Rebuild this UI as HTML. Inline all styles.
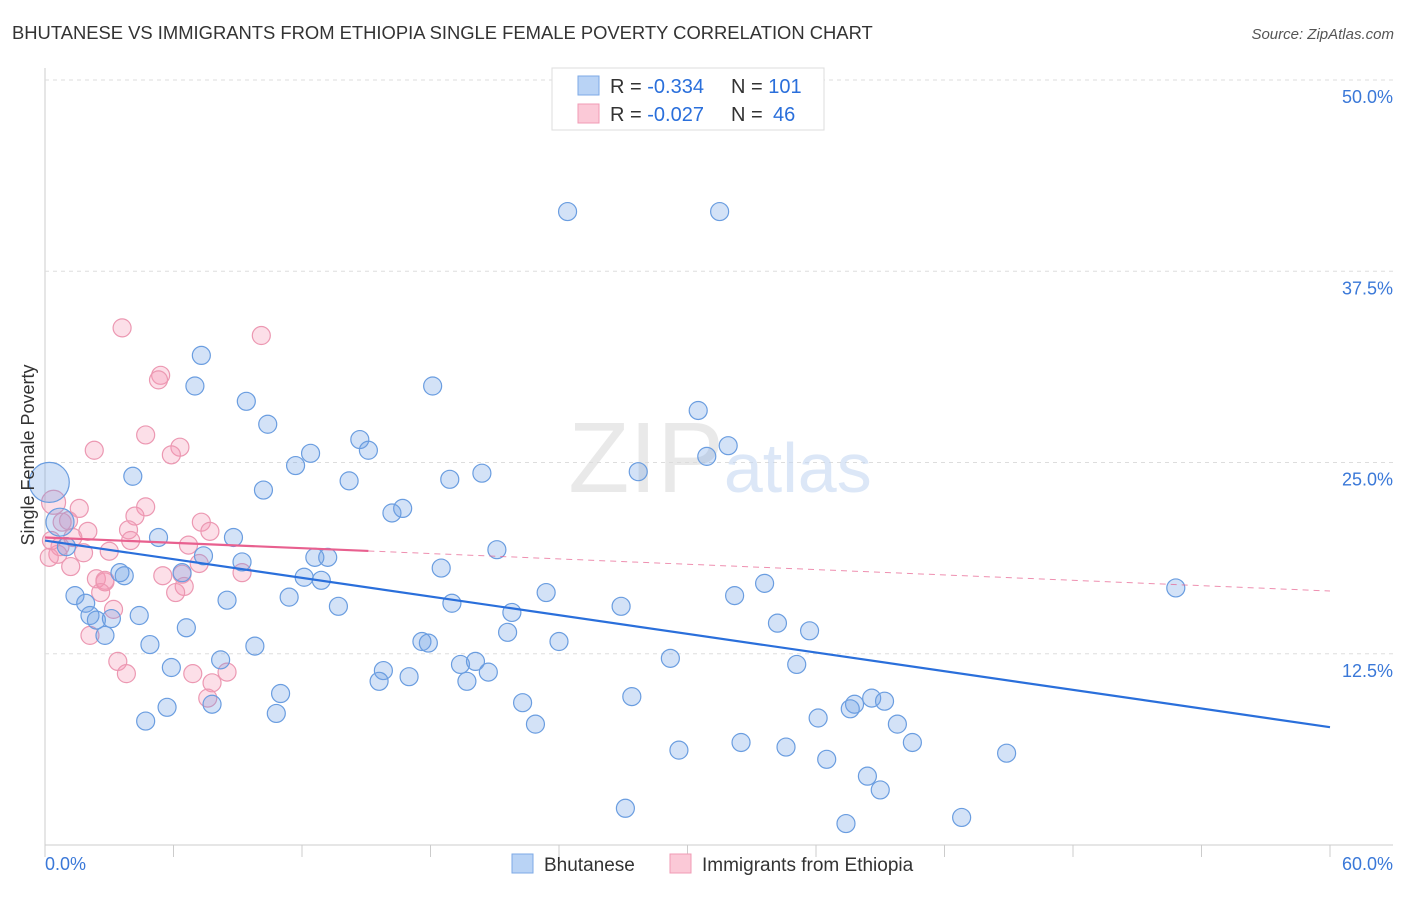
<!DOCTYPE html>
<html><head><meta charset="utf-8"><style>
body{margin:0;background:#fff;font-family:"Liberation Sans",sans-serif;}
svg text{font-family:"Liberation Sans",sans-serif;}
</style></head><body>
<svg id="chart" width="1406" height="892" xmlns="http://www.w3.org/2000/svg">
<text x="12" y="39" font-size="18.4" fill="#333">BHUTANESE VS IMMIGRANTS FROM ETHIOPIA SINGLE FEMALE POVERTY CORRELATION CHART</text>
<text x="1394" y="39" font-size="15" fill="#555" font-style="italic" text-anchor="end">Source: ZipAtlas.com</text>
<g id="grid"></g>
<text x="720" y="492" font-size="100" text-anchor="middle" fill="#dcdcdc" font-family="Liberation Serif" opacity="0.6">ZIP<tspan fill="#c5d8f2" font-family="Liberation Sans" font-size="70">atlas</tspan></text>
<g id="points"></g>
<g id="trends"></g>
<text transform="translate(34,455) rotate(-90)" font-size="18" fill="#333" text-anchor="middle">Single Female Poverty</text>
<g>
<rect x="552" y="68" width="272" height="62" fill="#fff" stroke="#ddd"/>
<rect x="578" y="76" width="21" height="19" fill="#b9d3f5" stroke="#7da9e6"/>
<rect x="578" y="104" width="21" height="19" fill="#fbc9d7" stroke="#f09bb4"/>
<text x="610" y="93" font-size="20" fill="#333">R = <tspan fill="#2a6fdb">-0.334</tspan><tspan x="731">N = </tspan><tspan fill="#2a6fdb">101</tspan></text>
<text x="610" y="121" font-size="20" fill="#333">R = <tspan fill="#2a6fdb">-0.027</tspan><tspan x="731">N = </tspan><tspan fill="#2a6fdb" x="773">46</tspan></text>
</g>
<g>
<rect x="512" y="854" width="21" height="19" fill="#b9d3f5" stroke="#7da9e6"/>
<text x="544" y="871" font-size="19" fill="#333">Bhutanese</text>
<rect x="670" y="854" width="21" height="19" fill="#fbc9d7" stroke="#f09bb4"/>
<text x="702" y="871" font-size="19" fill="#333">Immigrants from Ethiopia</text>
</g>
</svg>
<script>
const blueX=[0.2,0.7,24.4,31.5,7.3,7.0,18.1,9.4,30.5,10.4,14.7,31.9,12.4,15.1,30.9,11.7,20.4,4.1,14.2,18.9,27.7,10.2,16.7,16.2,5.3,8.8,21.1,1.0,7.4,9.2,13.2,12.6,18.5,3.5,3.7,12.1,12.9,6.4,33.6,23.4,32.2,52.8,1.4,11.4,1.9,8.5,13.7,19.0,26.9,21.8,4.4,2.1,2.4,3.1,34.2,35.7,6.6,21.6,2.8,17.6,17.9,4.9,24.0,9.8,29.2,8.2,35.1,5.9,15.8,19.4,20.1,20.7,15.6,17.0,19.7,11.0,27.4,22.3,38.6,39.2,37.8,37.6,7.8,5.7,10.8,36.1,39.8,4.7,22.9,32.5,40.5,34.6,29.6,44.9,36.5,38.4,39.0,27.1,42.8,37.4];
const blueY=[23.7,21.1,41.4,41.4,32.0,30.0,30.0,29.0,28.4,27.5,26.5,26.1,25.6,25.8,25.4,24.8,24.3,24.1,23.8,23.9,24.4,23.2,22.0,21.7,20.1,20.1,19.3,19.5,18.9,18.5,18.8,18.8,18.1,17.8,17.6,17.5,17.3,17.8,17.1,16.5,16.3,16.8,16.3,16.2,15.8,16.0,15.6,15.8,15.6,15.2,15.0,15.0,14.7,14.8,14.5,14.0,14.2,13.9,13.7,13.3,13.2,13.1,13.3,13.0,12.2,12.1,11.8,11.6,11.4,11.8,12.0,11.3,10.7,11.0,10.7,9.9,9.7,9.3,9.6,9.4,9.2,8.9,9.2,9.0,8.6,8.3,7.9,8.1,7.9,6.7,6.7,6.4,6.2,6.0,5.6,4.5,3.6,2.4,1.8,1.4];
const blueR=[20,14];
const pinkX=[0.4,3.6,10.1,5.4,5.3,4.7,2.3,6.3,5.9,1.6,4.7,0.8,1.1,7.3,4.2,3.9,2.0,7.7,4.0,0.6,1.3,6.7,0.7,1.8,3.0,7.2,1.2,6.4,5.5,9.2,2.4,2.8,2.8,6.5,6.1,2.6,3.2,2.1,3.4,3.8,8.5,6.9,7.8,7.6,0.2,0.3];
const pinkY=[22.4,33.8,33.3,30.7,30.4,26.8,25.8,26.0,25.5,22.0,22.1,21.1,21.2,21.1,21.5,20.6,20.5,20.5,19.9,19.0,20.1,19.6,19.5,19.1,19.2,18.4,18.2,17.7,17.6,17.8,17.4,17.2,17.3,16.9,16.5,16.5,15.4,13.7,12.0,11.2,11.3,11.2,10.6,9.6,18.8,19.9];
const pinkR=[12];
const blueTrend=[19.9,7.7];
const pinkTrend=[20.1,16.6];
const pinkSolidEnd=15.1;
const yTicks=[12.5,25,37.5,50];
const yTickLabels=["12.5%","25.0%","37.5%","50.0%"];
const xTickLabels=["0.0%","60.0%"];
const NS="http://www.w3.org/2000/svg";
const X0=45,X1=1330,Y0=845,PX=15.3;
function sx(v){return X0+(v/60)*(X1-X0);}
function sy(v){return Y0-v*PX;}
function mk(t,a,p){const e=document.createElementNS(NS,t);for(const k in a)e.setAttribute(k,a[k]);p.appendChild(e);return e;}
const grid=document.getElementById('grid');
const ax=mk('line',{x1:X0,y1:Y0,x2:1393,y2:Y0,stroke:'#ccc'},grid);


const ay=mk('line',{x1:X0,y1:68,x2:X0,y2:Y0,stroke:'#ccc'},grid);


for(let i=0;i<=10;i++){const t=mk('line',{x1:sx(i*6),y1:Y0,x2:sx(i*6),y2:Y0+12,stroke:'#ccc'},grid);

}
yTicks.forEach((v,i)=>{const g=mk('line',{x1:X0,y1:sy(v),x2:1393,y2:sy(v),stroke:'#ddd','stroke-dasharray':'4,4'},grid);


const t=mk('text',{x:1393,y:sy(v)+23,'font-size':18,fill:'#3a78d8','text-anchor':'end'},grid);t.textContent=yTickLabels[i];

});
[[0,'start',X0],[60,'end',1393]].forEach((d,i)=>{const t=mk('text',{x:d[2],y:870,'font-size':18,fill:'#3a78d8','text-anchor':d[1]},grid);t.textContent=xTickLabels[i];

});
const pts=document.getElementById('points');
pinkX.forEach((v,i)=>{const c=mk('circle',{cx:sx(v),cy:sy(pinkY[i]),r:pinkR[i]||9,fill:'rgba(244,150,180,0.3)',stroke:'#ec98b2','stroke-width':1.2},pts);

});
blueX.forEach((v,i)=>{const c=mk('circle',{cx:sx(v),cy:sy(blueY[i]),r:blueR[i]||9,fill:'rgba(110,160,230,0.3)',stroke:'#6a9de0','stroke-width':1.2},pts);

});
const tr=document.getElementById('trends');
const bl=mk('line',{x1:sx(0),y1:sy(blueTrend[0]),x2:sx(60),y2:sy(blueTrend[1]),stroke:'#2a6fdb','stroke-width':2.2},tr);


const pm=pinkTrend[0]+(pinkTrend[1]-pinkTrend[0])*pinkSolidEnd/60;
const pd=mk('line',{x1:sx(pinkSolidEnd),y1:sy(pm),x2:sx(60),y2:sy(pinkTrend[1]),stroke:'#e8608f','stroke-width':1,'stroke-dasharray':'6,5',opacity:0.7},tr);


const ps=mk('line',{x1:sx(0),y1:sy(pinkTrend[0]),x2:sx(pinkSolidEnd),y2:sy(pm),stroke:'#e8608f','stroke-width':2.2},tr);


</script>
</body></html>
